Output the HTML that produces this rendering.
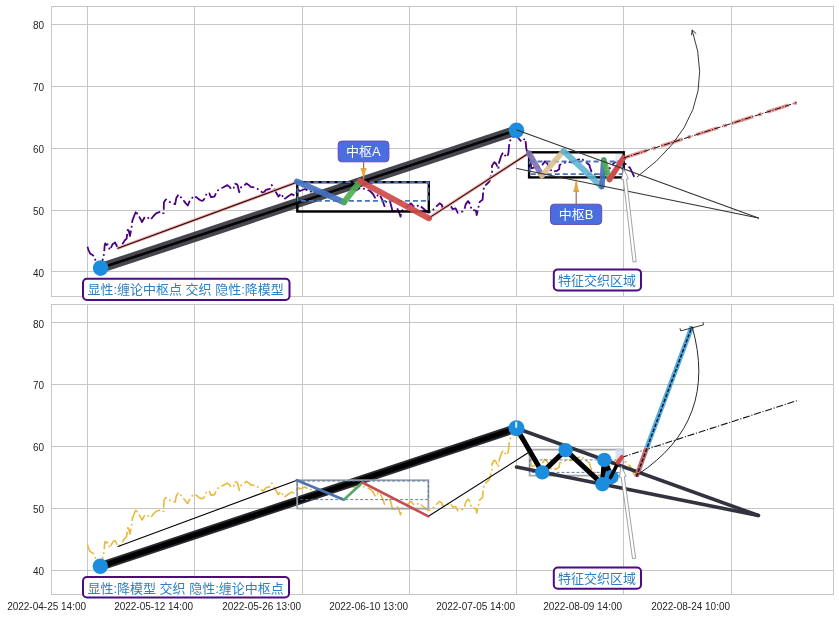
<!DOCTYPE html><html><head><meta charset="utf-8"><title>chart</title><style>html,body{margin:0;padding:0;background:#fff;}svg{display:block;will-change:transform;}.tk{font-family:"Liberation Sans", Arial, sans-serif;font-size:10px;fill:#262626;}.cj{font-family:"Liberation Sans", "Noto Sans CJK SC", sans-serif;}</style></head><body>
<svg width="839" height="617" viewBox="0 0 839 617">
<rect x="0" y="0" width="839" height="617" fill="#ffffff"/>
<line x1="87.5" y1="6.5" x2="87.5" y2="296.5" stroke="#c6c6c6" stroke-width="1"/>
<line x1="194.5" y1="6.5" x2="194.5" y2="296.5" stroke="#c6c6c6" stroke-width="1"/>
<line x1="302.5" y1="6.5" x2="302.5" y2="296.5" stroke="#c6c6c6" stroke-width="1"/>
<line x1="409.5" y1="6.5" x2="409.5" y2="296.5" stroke="#c6c6c6" stroke-width="1"/>
<line x1="516.5" y1="6.5" x2="516.5" y2="296.5" stroke="#c6c6c6" stroke-width="1"/>
<line x1="623.5" y1="6.5" x2="623.5" y2="296.5" stroke="#c6c6c6" stroke-width="1"/>
<line x1="731.5" y1="6.5" x2="731.5" y2="296.5" stroke="#c6c6c6" stroke-width="1"/>
<line x1="51.5" y1="24.5" x2="833.5" y2="24.5" stroke="#c6c6c6" stroke-width="1"/>
<line x1="51.5" y1="86.5" x2="833.5" y2="86.5" stroke="#c6c6c6" stroke-width="1"/>
<line x1="51.5" y1="148.5" x2="833.5" y2="148.5" stroke="#c6c6c6" stroke-width="1"/>
<line x1="51.5" y1="210.5" x2="833.5" y2="210.5" stroke="#c6c6c6" stroke-width="1"/>
<line x1="51.5" y1="271.5" x2="833.5" y2="271.5" stroke="#c6c6c6" stroke-width="1"/>
<rect x="51.5" y="6.5" width="782.0" height="290.0" fill="none" stroke="#c6c6c6" stroke-width="1"/>
<text x="44.1" y="28.7" text-anchor="end" class="tk">80</text>
<text x="44.1" y="90.7" text-anchor="end" class="tk">70</text>
<text x="44.1" y="152.7" text-anchor="end" class="tk">60</text>
<text x="44.1" y="214.7" text-anchor="end" class="tk">50</text>
<text x="44.1" y="276.7" text-anchor="end" class="tk">40</text>
<g>
<polyline points="87.5,246.7 88.5,250.0 90.0,253.4 92.6,255.0 94.2,256.7 95.5,260.5 97.5,264.0 100.0,266.0 102.0,262.0 103.5,257.0 104.2,252.0 104.6,246.0 105.2,243.4 106.5,245.0 107.6,244.2 110.0,250.0 112.6,244.2 115.1,242.5 117.6,247.5 119.3,248.4 121.5,245.5 123.4,242.5 125.1,240.0 126.6,238.7 127.5,232.0 128.0,228.0 130.0,236.0 131.7,226.3 132.4,220.5 134.5,215.0 136.4,210.7 137.5,215.4 139.3,216.9 142.0,222.0 144.8,217.0 147.0,216.9 150.6,219.8 153.5,216.0 156.4,213.2 160.8,211.8 162.2,213.5 163.7,213.2 163.9,202.3 165.9,199.4 168.0,201.2 172.0,203.0 175.2,204.1 176.3,197.9 178.5,194.5 182.0,198.5 185.6,203.1 187.8,205.5 189.4,201.7 191.5,198.8 193.7,196.0 195.0,196.5 196.6,197.4 199.5,199.8 201.5,200.8 203.3,200.3 205.0,198.0 206.9,192.8 209.3,193.3 211.0,197.1 214.5,196.6 216.9,190.9 219.8,189.0 223.4,187.3 227.4,185.1 229.8,187.1 231.2,189.4 233.6,188.0 235.0,183.7 237.4,184.7 239.3,192.3 241.2,187.1 245.0,184.7 246.5,183.4 248.9,185.2 250.7,186.9 254.5,187.4 259.3,189.8 263.1,193.1 266.0,189.8 269.8,188.8 271.7,185.0 274.6,189.8 278.4,196.5 281.2,193.6 284.1,199.3 287.9,196.5 291.7,194.1 294.6,195.5 296.5,193.6 297.0,188.8 300.0,191.0 305.0,189.0 310.0,192.0 314.0,190.0 320.0,193.0 325.0,191.0 330.0,189.0 335.0,191.0 340.0,188.0 345.0,190.0 350.0,187.0 356.0,190.6 360.0,188.0 365.0,189.0 370.0,191.0 373.0,194.0 375.5,198.6 378.0,195.0 379.5,194.5 382.6,200.5 384.5,206.2 386.5,200.5 388.5,201.0 390.0,201.5 391.5,207.0 393.0,213.0 395.0,211.0 397.0,208.0 399.0,212.0 400.5,216.7 401.7,211.0 404.0,209.0 408.0,206.0 411.0,203.4 413.0,206.0 416.0,207.0 419.0,205.0 422.7,208.0 425.0,210.0 428.0,212.5 430.8,212.1 433.7,209.2 436.7,206.2 439.6,203.3 441.8,204.8 442.5,207.7 446.5,206.5 450.5,205.5 452.7,209.2 455.6,208.4 457.8,212.8 460.7,212.1 462.9,211.3 464.4,209.2 465.8,204.1 468.0,201.1 470.2,204.1 471.6,209.9 476.0,210.6 476.7,215.0 478.2,208.4 479.7,201.9 482.6,199.7 483.3,190.9 484.4,185.8 485.5,185.4 489.4,181.5 490.9,175.7 492.4,170.8 491.9,166.0 494.3,162.1 496.2,164.0 498.2,168.9 499.2,162.1 501.1,156.2 503.0,152.4 505.0,155.3 506.9,157.2 508.4,153.3 508.9,147.5 509.4,143.6 510.8,138.7 512.8,136.8 516.6,135.8 519.6,139.7 521.5,141.7 523.5,139.7 525.4,138.7 525.9,144.6 526.4,149.4 527.3,151.4 530.8,163.3 531.3,168.4 536.0,167.0 541.7,165.9 545.0,161.3 547.1,163.3 551.7,171.7 556.7,170.9 559.2,169.2 559.6,165.0 564.0,163.0 568.4,161.7 571.7,162.5 577.0,160.0 580.0,159.0 581.7,158.4 584.0,161.0 587.0,163.0 589.4,165.0 590.0,167.5 591.4,171.4 595.0,174.5 598.5,177.2 602.0,177.0 606.0,172.0 610.0,168.0 614.0,163.0 616.7,161.7 620.0,160.8 624.2,162.5 626.7,165.0 630.0,167.9 634.2,176.7 635.9,178.4" fill="none" stroke="#4b0082" stroke-width="1.8" stroke-linejoin="round" stroke-dasharray="11.90,2.98,1.86,2.98" stroke-linecap="butt"/>
<line x1="118" y1="248.2" x2="297" y2="182.2" stroke="#eeaaa8" stroke-width="3" stroke-linecap="round" />
<line x1="118" y1="248.2" x2="297" y2="182.2" stroke="#2a0606" stroke-width="1.1" stroke-linecap="round" />
<line x1="428.8" y1="218.1" x2="527.5" y2="154" stroke="#eeaaa8" stroke-width="3" stroke-linecap="round" />
<line x1="428.8" y1="218.1" x2="527.5" y2="154" stroke="#2a0606" stroke-width="1.1" stroke-linecap="round" />
<line x1="100.6" y1="268.1" x2="516.5" y2="130.3" stroke="#46464f" stroke-width="10.0" stroke-linecap="butt"/>
<line x1="100.6" y1="268.1" x2="516.5" y2="130.3" stroke="#050505" stroke-width="2.6" stroke-linecap="butt"/>
<rect x="297.3" y="182.2" width="131.5" height="29.3" fill="none" stroke="#000000" stroke-width="2.4" />
<rect x="297.6" y="182.2" width="130.8" height="18.7" fill="none" stroke="#4c72b0" stroke-width="1.8" stroke-dasharray="5,3"/>
<line x1="296.8" y1="181.6" x2="344.0" y2="202.2" stroke="#4572c0" stroke-width="6" stroke-linecap="round" opacity="0.92"/>
<line x1="344.0" y1="202.2" x2="360.0" y2="181.6" stroke="#4cad50" stroke-width="6" stroke-linecap="round" opacity="0.9"/>
<line x1="360.0" y1="181.2" x2="429.0" y2="218.3" stroke="#d04a4a" stroke-width="6" stroke-linecap="round" opacity="0.92"/>
<rect x="615.5" y="151.5" width="7.5" height="11" fill="#dfe8f3" opacity="0.8"/>
<rect x="529.1" y="152.3" width="94.6" height="25.1" fill="none" stroke="#000000" stroke-width="2.4" />
<rect x="529.6" y="161.5" width="92.8" height="12.6" fill="none" stroke="#4c72b0" stroke-width="1.8" stroke-dasharray="5,3"/>
<line x1="528.9" y1="153.0" x2="541.9" y2="175.7" stroke="#8172b3" stroke-width="5.6" stroke-linecap="round" opacity="0.92"/>
<line x1="541.9" y1="175.7" x2="563.5" y2="151.0" stroke="#dcbf8c" stroke-width="5.6" stroke-linecap="round" opacity="0.88"/>
<line x1="563.5" y1="151.0" x2="601.5" y2="186.5" stroke="#5ab4d4" stroke-width="6.0" stroke-linecap="round" opacity="0.88"/>
<line x1="601.8" y1="186.5" x2="603.8" y2="160.0" stroke="#4670b8" stroke-width="5.6" stroke-linecap="round" opacity="0.92"/>
<line x1="603.8" y1="160.0" x2="609.5" y2="179.5" stroke="#4cad50" stroke-width="5.6" stroke-linecap="round" opacity="0.9"/>
<line x1="609.5" y1="179.5" x2="623.5" y2="158.0" stroke="#cc4c50" stroke-width="5.6" stroke-linecap="round" />
<line x1="623.5" y1="158.0" x2="796.6" y2="102.6" stroke="#ec9494" stroke-width="3.5" stroke-linecap="butt" stroke-dasharray="22.40,5.60,3.50,5.60" stroke-dashoffset="-2.4"/>
<line x1="623.5" y1="158.0" x2="796.6" y2="102.6" stroke="#111111" stroke-width="1.0" stroke-linecap="butt" stroke-dasharray="6.40,1.60,1.00,1.60"/>
<path d="M636.8,177.1 Q721.3,115.2 692.2,30.4" fill="none" stroke="#222" stroke-width="0.9"/>
<path d="M691.5,35.3 L692.2,29.9 L696.2,33.7" fill="none" stroke="#222" stroke-width="0.9"/>
<circle cx="100.6" cy="268.1" r="7.8" fill="#1c8ddc"/>
<circle cx="516.5" cy="130.3" r="7.8" fill="#1c8ddc"/>
<line x1="516.9" y1="130.0" x2="758.4" y2="218.0" stroke="#333333" stroke-width="1.25" stroke-linecap="round" />
<line x1="516.9" y1="168.5" x2="758.4" y2="218.0" stroke="#333333" stroke-width="1.25" stroke-linecap="round" />
<rect x="338.2" y="141.1" width="50.7" height="20.7" rx="3.5" ry="3.5" fill="#4a6de0" stroke="#6a4aa8" stroke-width="1"/><text x="346.1" y="156.2" class="cj" fill="#ffffff" font-size="13">中枢A</text>
<line x1="363.6" y1="161.8" x2="363.6" y2="170" stroke="#a0684a" stroke-width="1.2" stroke-linecap="butt"/>
<polygon points="360.8,168.5 366.4,168.5 364.9,172 363.6,180 362.3,172" fill="#f0a830" stroke="#c08030" stroke-width="0.5"/>
<rect x="550.5" y="204.2" width="51.2" height="20.2" rx="3.5" ry="3.5" fill="#4a6de0" stroke="#6a4aa8" stroke-width="1"/><text x="558.8" y="219.2" class="cj" fill="#ffffff" font-size="13">中枢B</text>
<line x1="576.2" y1="204.2" x2="576.2" y2="190" stroke="#a0684a" stroke-width="1.2" stroke-linecap="butt"/>
<polygon points="573.4,191.5 579.0,191.5 577.5,188 576.2,179.3 574.9,188" fill="#f0a830" stroke="#c08030" stroke-width="0.5"/>
<polygon points="636.2,261.6 626.5,179.2 628.4,179.0 623.6,168.5 621.4,179.8 623.3,179.6 633.0,262.0" fill="#ffffff" stroke="#8a8a8a" stroke-width="0.8" stroke-linejoin="miter"/>
<rect x="553.8" y="269.4" width="87.2" height="21.0" rx="4" ry="4" fill="#ffffff" stroke="#4b0b82" stroke-width="2"/><text x="558.0" y="284.8" class="cj" fill="#2f80c2" font-size="13">特征交织区域</text>
<rect x="83.0" y="278.8" width="206.5" height="21.2" rx="4" ry="4" fill="#ffffff" stroke="#4b0b82" stroke-width="2"/><text x="87.4" y="294.3" class="cj" fill="#2f80c2" font-size="13">显性:缠论中枢点 交织 隐性:降模型</text>
</g>
<line x1="87.5" y1="304.5" x2="87.5" y2="594.5" stroke="#c6c6c6" stroke-width="1"/>
<line x1="194.5" y1="304.5" x2="194.5" y2="594.5" stroke="#c6c6c6" stroke-width="1"/>
<line x1="302.5" y1="304.5" x2="302.5" y2="594.5" stroke="#c6c6c6" stroke-width="1"/>
<line x1="409.5" y1="304.5" x2="409.5" y2="594.5" stroke="#c6c6c6" stroke-width="1"/>
<line x1="516.5" y1="304.5" x2="516.5" y2="594.5" stroke="#c6c6c6" stroke-width="1"/>
<line x1="623.5" y1="304.5" x2="623.5" y2="594.5" stroke="#c6c6c6" stroke-width="1"/>
<line x1="731.5" y1="304.5" x2="731.5" y2="594.5" stroke="#c6c6c6" stroke-width="1"/>
<line x1="51.5" y1="322.5" x2="833.5" y2="322.5" stroke="#c6c6c6" stroke-width="1"/>
<line x1="51.5" y1="384.5" x2="833.5" y2="384.5" stroke="#c6c6c6" stroke-width="1"/>
<line x1="51.5" y1="446.5" x2="833.5" y2="446.5" stroke="#c6c6c6" stroke-width="1"/>
<line x1="51.5" y1="508.5" x2="833.5" y2="508.5" stroke="#c6c6c6" stroke-width="1"/>
<line x1="51.5" y1="570.5" x2="833.5" y2="570.5" stroke="#c6c6c6" stroke-width="1"/>
<rect x="51.5" y="304.5" width="782.0" height="290.0" fill="none" stroke="#c6c6c6" stroke-width="1"/>
<text x="44.1" y="327.8" text-anchor="end" class="tk">80</text>
<text x="44.1" y="388.8" text-anchor="end" class="tk">70</text>
<text x="44.1" y="450.8" text-anchor="end" class="tk">60</text>
<text x="44.1" y="512.8" text-anchor="end" class="tk">50</text>
<text x="44.1" y="574.8" text-anchor="end" class="tk">40</text>
<g>
<g transform="translate(0,298.0)"><polyline points="87.5,246.7 88.5,250.0 90.0,253.4 92.6,255.0 94.2,256.7 95.5,260.5 97.5,264.0 100.0,266.0 102.0,262.0 103.5,257.0 104.2,252.0 104.6,246.0 105.2,243.4 106.5,245.0 107.6,244.2 110.0,250.0 112.6,244.2 115.1,242.5 117.6,247.5 119.3,248.4 121.5,245.5 123.4,242.5 125.1,240.0 126.6,238.7 127.5,232.0 128.0,228.0 130.0,236.0 131.7,226.3 132.4,220.5 134.5,215.0 136.4,210.7 137.5,215.4 139.3,216.9 142.0,222.0 144.8,217.0 147.0,216.9 150.6,219.8 153.5,216.0 156.4,213.2 160.8,211.8 162.2,213.5 163.7,213.2 163.9,202.3 165.9,199.4 168.0,201.2 172.0,203.0 175.2,204.1 176.3,197.9 178.5,194.5 182.0,198.5 185.6,203.1 187.8,205.5 189.4,201.7 191.5,198.8 193.7,196.0 195.0,196.5 196.6,197.4 199.5,199.8 201.5,200.8 203.3,200.3 205.0,198.0 206.9,192.8 209.3,193.3 211.0,197.1 214.5,196.6 216.9,190.9 219.8,189.0 223.4,187.3 227.4,185.1 229.8,187.1 231.2,189.4 233.6,188.0 235.0,183.7 237.4,184.7 239.3,192.3 241.2,187.1 245.0,184.7 246.5,183.4 248.9,185.2 250.7,186.9 254.5,187.4 259.3,189.8 263.1,193.1 266.0,189.8 269.8,188.8 271.7,185.0 274.6,189.8 278.4,196.5 281.2,193.6 284.1,199.3 287.9,196.5 291.7,194.1 294.6,195.5 296.5,193.6 297.0,188.8 300.0,191.0 305.0,189.0 310.0,192.0 314.0,190.0 320.0,193.0 325.0,191.0 330.0,189.0 335.0,191.0 340.0,188.0 345.0,190.0 350.0,187.0 356.0,190.6 360.0,188.0 365.0,189.0 370.0,191.0 373.0,194.0 375.5,198.6 378.0,195.0 379.5,194.5 382.6,200.5 384.5,206.2 386.5,200.5 388.5,201.0 390.0,201.5 391.5,207.0 393.0,213.0 395.0,211.0 397.0,208.0 399.0,212.0 400.5,216.7 401.7,211.0 404.0,209.0 408.0,206.0 411.0,203.4 413.0,206.0 416.0,207.0 419.0,205.0 422.7,208.0 425.0,210.0 428.0,212.5 430.8,212.1 433.7,209.2 436.7,206.2 439.6,203.3 441.8,204.8 442.5,207.7 446.5,206.5 450.5,205.5 452.7,209.2 455.6,208.4 457.8,212.8 460.7,212.1 462.9,211.3 464.4,209.2 465.8,204.1 468.0,201.1 470.2,204.1 471.6,209.9 476.0,210.6 476.7,215.0 478.2,208.4 479.7,201.9 482.6,199.7 483.3,190.9 484.4,185.8 485.5,185.4 489.4,181.5 490.9,175.7 492.4,170.8 491.9,166.0 494.3,162.1 496.2,164.0 498.2,168.9 499.2,162.1 501.1,156.2 503.0,152.4 505.0,155.3 506.9,157.2 508.4,153.3 508.9,147.5 509.4,143.6 510.8,138.7 512.8,136.8 516.6,135.8 519.6,139.7 521.5,141.7 523.5,139.7 525.4,138.7 525.9,144.6 526.4,149.4 527.3,151.4 530.8,163.3 531.3,168.4 536.0,167.0 541.7,165.9 545.0,161.3 547.1,163.3 551.7,171.7 556.7,170.9 559.2,169.2 559.6,165.0 564.0,163.0 568.4,161.7 571.7,162.5 577.0,160.0 580.0,159.0 581.7,158.4 584.0,161.0 587.0,163.0 589.4,165.0 590.0,167.5 591.4,171.4 595.0,174.5 598.5,177.2 602.0,177.0 606.0,172.0 610.0,168.0 614.0,163.0 616.7,161.7 620.0,160.8 624.2,162.5 626.7,165.0 630.0,167.9 634.2,176.7 635.9,178.4" fill="none" stroke="#e9b93c" stroke-width="1.6" stroke-linejoin="round" stroke-dasharray="11.90,2.98,1.86,2.98" stroke-linecap="butt"/></g>
<line x1="118" y1="546.5" x2="297" y2="480.2" stroke="#000" stroke-width="1.1" stroke-linecap="round" />
<line x1="428.4" y1="516.3" x2="529.3" y2="452.0" stroke="#000" stroke-width="1.1" stroke-linecap="round" />
<line x1="100.3" y1="566.3" x2="516.5" y2="428.2" stroke="#2a2a30" stroke-width="8.6" stroke-linecap="butt"/>
<line x1="100.3" y1="566.3" x2="516.5" y2="428.2" stroke="#000000" stroke-width="5.0" stroke-linecap="butt"/>
<rect x="297.2" y="480.2" width="131.2" height="28.4" fill="none" stroke="#a0a0a0" stroke-width="1.8" />
<rect x="297.2" y="481.0" width="131.2" height="18.6" fill="none" stroke="#4c72b0" stroke-width="0.9" stroke-dasharray="3,2"/>
<line x1="296.8" y1="480.2" x2="343.9" y2="499.7" stroke="#4c72b0" stroke-width="2.6" stroke-linecap="round" />
<line x1="343.9" y1="499.7" x2="362.5" y2="482.5" stroke="#55a868" stroke-width="2.6" stroke-linecap="round" />
<line x1="362.5" y1="482.5" x2="428.4" y2="516.3" stroke="#c44e52" stroke-width="2.6" stroke-linecap="round" />
<rect x="529.6" y="449.6" width="93.7" height="26.0" fill="none" stroke="#a8a8a8" stroke-width="1.8" />
<rect x="529.6" y="459.9" width="93.7" height="12.5" fill="none" stroke="#4c72b0" stroke-width="0.9" stroke-dasharray="3,2"/>
<rect x="615.5" y="448.3" width="8" height="16" fill="#ccd6ea" opacity="0.75"/>
<line x1="516.5" y1="428.2" x2="758.4" y2="515.5" stroke="#33333f" stroke-width="3.6" stroke-linecap="round" />
<line x1="516.5" y1="467.0" x2="758.4" y2="515.5" stroke="#33333f" stroke-width="3.6" stroke-linecap="round" />
<polyline points="516.5,428.2 542.3,472.4 565.6,450.1 602.4,484.2 604.3,459.9 611.5,477.0" fill="none" stroke="#000000" stroke-width="5" stroke-linecap="round" stroke-linejoin="round" />
<line x1="621.0" y1="457.6" x2="796.8" y2="400.7" stroke="#111111" stroke-width="1.1" stroke-linecap="butt" stroke-dasharray="7.04,1.76,1.10,1.76"/>
<line x1="636.4" y1="476.8" x2="646.7" y2="448.0" stroke="#c86a6a" stroke-width="4.8" stroke-linecap="butt"/>
<line x1="646.7" y1="448.0" x2="691.9" y2="326.7" stroke="#55ace4" stroke-width="4.8" stroke-linecap="butt"/>
<line x1="636.4" y1="476.8" x2="691.9" y2="326.7" stroke="#0d1a2a" stroke-width="1.5" stroke-linecap="butt" stroke-dasharray="3.7,1.6"/>
<path d="M680.0,328.3 L680.7,330.9 L703.6,324.8 L702.9,322.2" fill="none" stroke="#222" stroke-width="0.9"/>
<path d="M637.7,474.6 Q719.1,421.0 692.1,326.6" fill="none" stroke="#111" stroke-width="0.9"/>
<circle cx="542.3" cy="472.4" r="7.2" fill="#1c8ddc"/>
<circle cx="565.6" cy="450.1" r="7.2" fill="#1c8ddc"/>
<circle cx="602.4" cy="484.2" r="7.2" fill="#1c8ddc"/>
<circle cx="604.3" cy="459.9" r="7.2" fill="#1c8ddc"/>
<circle cx="611.5" cy="477.0" r="7.2" fill="#1c8ddc"/>
<line x1="610.5" y1="477.5" x2="618.0" y2="463.0" stroke="#000000" stroke-width="3.6" stroke-linecap="round" />
<line x1="617.8" y1="462.6" x2="621.8" y2="457.2" stroke="#d04848" stroke-width="4.4" stroke-linecap="round" />
<circle cx="100.3" cy="566.3" r="7.7" fill="#1c8ddc"/>
<circle cx="516.5" cy="428.2" r="8.0" fill="#1c8ddc"/>
<rect x="515.2" y="421.8" width="2" height="6" fill="#d8f2ff"/>
<polygon points="635.7,558.3 624.3,476.7 626.2,476.4 621.2,466.0 619.3,477.4 621.1,477.1 632.5,558.7" fill="#ffffff" stroke="#8a8a8a" stroke-width="0.8" stroke-linejoin="miter"/>
<rect x="553.8" y="567.5" width="87.2" height="21.3" rx="4" ry="4" fill="#ffffff" stroke="#4b0b82" stroke-width="2"/><text x="558.0" y="582.9" class="cj" fill="#2f80c2" font-size="13">特征交织区域</text>
<rect x="83.0" y="577.0" width="206.0" height="20.5" rx="4" ry="4" fill="#ffffff" stroke="#4b0b82" stroke-width="2"/><text x="87.4" y="592.5" class="cj" fill="#2f80c2" font-size="13">显性:降模型 交织 隐性:缠论中枢点</text>
</g>
<text x="86.1" y="609.6" text-anchor="end" class="tk">2022-04-25 14:00</text>
<text x="193.1" y="609.6" text-anchor="end" class="tk">2022-05-12 14:00</text>
<text x="301.1" y="609.6" text-anchor="end" class="tk">2022-05-26 13:00</text>
<text x="408.1" y="609.6" text-anchor="end" class="tk">2022-06-10 13:00</text>
<text x="515.1" y="609.6" text-anchor="end" class="tk">2022-07-05 14:00</text>
<text x="622.1" y="609.6" text-anchor="end" class="tk">2022-08-09 14:00</text>
<text x="730.1" y="609.6" text-anchor="end" class="tk">2022-08-24 10:00</text>
</svg></body></html>
